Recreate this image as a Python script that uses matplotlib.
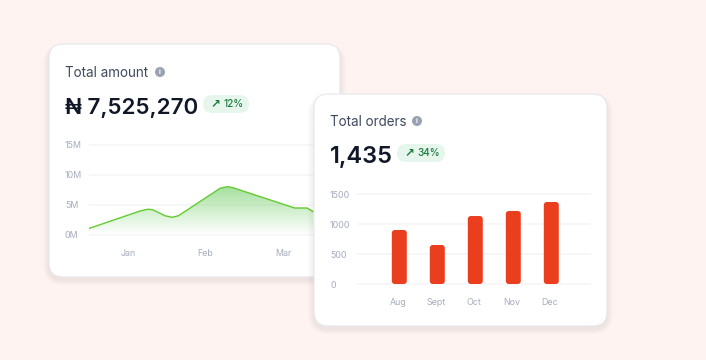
import numpy as np
import matplotlib
matplotlib.use('Agg')
import matplotlib.pyplot as plt
from matplotlib.patches import FancyBboxPatch, Circle, Polygon

plt.rcParams['font.family'] = ['Inter', 'Noto Sans', 'DejaVu Sans']

W, H = 706, 360

# area chart: month position, value in millions
amount_x = [-0.50, 0.155, 0.26, 0.32, 0.48, 0.57, 0.65, 1.19, 1.28, 1.35, 2.15, 2.31, 2.39]
amount_y = [1.1, 4.0, 4.3, 4.2, 3.2, 2.95, 3.2, 7.8, 8.05, 7.9, 4.5, 4.5, 3.9]
amount_months = ['Jan', 'Feb', 'Mar']
amount_ticks = [0, 5, 10, 15]
amount_labels = ['0M', '5M', '10M', '15M']

# bar chart
order_months = ['Aug', 'Sept', 'Oct', 'Nov', 'Dec']
order_values = [900, 650, 1133, 1217, 1367]
order_ticks = [0, 500, 1000, 1500]

BG = '#FEF3F0'
TITLE = '#3F4A5F'
VALUE = '#101828'
TICK = '#A5ACBD'
GRID = '#F7F7F8'
ICON = '#98A2B3'
PILL = '#E7F6EC'
PILL_TXT = '#1B7A3D'
GREEN = '#62CB2F'
RED = '#E93F1F'


def px_axes(fig, x0, x1, y0, y1, **kw):
    # axes placed by pixel box (y counted from the top)
    return fig.add_axes([x0 / W, 1 - y1 / H, (x1 - x0) / W, (y1 - y0) / H], **kw)


def layer(fig):
    ax = fig.add_axes([0, 0, 1, 1])
    ax.set_xlim(0, W)
    ax.set_ylim(H, 0)
    ax.axis('off')
    ax.patch.set_alpha(0)
    return ax


def card(ax, x0, y0, x1, y1):
    # soft shadow, then border and white face
    for i in range(8, 0, -1):
        ax.add_patch(FancyBboxPatch((x0 - i * 0.8, y0 - i * 0.4 + 3), x1 - x0 + i * 1.6, y1 - y0 + i * 1.1,
                                    boxstyle='round,pad=0,rounding_size=%d' % (14 + i), fc='#5A3A30',
                                    ec='none', alpha=0.006))
    ax.add_patch(FancyBboxPatch((x0, y0), x1 - x0, y1 - y0, boxstyle='round,pad=0,rounding_size=14',
                                fc='white', ec='#E4E7EC', lw=0.8))


def header(ax, x, title, icon_x, value, value_size, value_y, pill_x0, pill_x1, pct):
    ax.text(x, value_y - 27, title, fontsize=9.7, color=TITLE, va='baseline', ha='left')
    ax.add_patch(Circle((icon_x, value_y - 32), 5, fc=ICON, ec='none'))
    ax.text(icon_x, value_y - 32, 'i', fontsize=5, color='white', va='center', ha='center', fontweight='bold')
    ax.text(x, value_y + 10, value, fontsize=value_size, color=VALUE, va='baseline', ha='left', fontweight='semibold')
    ax.add_patch(FancyBboxPatch((pill_x0, value_y - 9), pill_x1 - pill_x0, 18,
                                boxstyle='round,pad=0,rounding_size=9', fc=PILL, ec='none'))
    ax.text(pill_x0 + 12, value_y, '\u2197', fontsize=8.5, color=PILL_TXT, va='center', ha='center',
            family=['DejaVu Sans'], fontweight='bold')
    ax.text(pill_x0 + 20, value_y, pct, fontsize=7.2, color=PILL_TXT, va='center', ha='left', fontweight='medium')


def style_axes(ax, pad):
    for s in ax.spines.values():
        s.set_visible(False)
    ax.patch.set_alpha(0)
    ax.grid(True, axis='y', color=GRID, lw=1.4, zorder=0)
    ax.grid(False, axis='x')
    ax.set_axisbelow(True)
    ax.tick_params(length=0, labelsize=6.4, labelcolor=TICK)
    ax.tick_params(axis='x', pad=9.5)
    ax.tick_params(axis='y', pad=pad)
    for lab in ax.get_yticklabels():
        lab.set_ha('left')


fig = plt.figure(figsize=(W / 100, H / 100), dpi=100, facecolor=BG)

# back layer with the first card
back = layer(fig)
card(back, 49, 44, 340, 277)
header(back, 65, 'Total amount', 160, '\u20a6 7,525,270', 16.1, 104, 203, 249, '12%')

# area chart, 30 px per 5M and 77.5 px per month
ax1 = px_axes(fig, 89, 330, 144, 236)
ax1.set_xlim((89 - 128) / 77.5, (330 - 128) / 77.5)
ax1.set_ylim(-1 / 6, 15 + 1 / 6)
ax1.set_xticks(range(len(amount_months)))
ax1.set_xticklabels(amount_months)
ax1.set_yticks(amount_ticks)
ax1.set_yticklabels(amount_labels)
style_axes(ax1, 17.3)

grad = np.zeros((100, 2, 4))
grad[..., 0] = 0.36
grad[..., 1] = 0.78
grad[..., 2] = 0.30
grad[..., 3] = np.linspace(0.55, 0.0, 100)[:, None]
xl, yl = ax1.get_xlim(), ax1.get_ylim()
im = ax1.imshow(grad, extent=[amount_x[0], amount_x[-1], 0, max(amount_y)], aspect='auto', origin='upper', zorder=2)
poly = Polygon(list(zip(amount_x, amount_y)) + [(amount_x[-1], 0), (amount_x[0], 0)], closed=True,
               transform=ax1.transData, fc='none', ec='none')
ax1.add_patch(poly)
im.set_clip_path(poly)
ax1.plot(amount_x, amount_y, color=GREEN, lw=1.0, zorder=3, solid_joinstyle='round')
ax1.set_xlim(xl)
ax1.set_ylim(yl)

# front layer with the second card
front = layer(fig)
card(front, 314, 94, 607, 326)
header(front, 330, 'Total orders', 417, '1,435', 17.0, 153, 397, 445, '34%')

# bar chart, 38 px per bar and 30 px per 500
ax2 = px_axes(fig, 357, 591, 193, 285)
ax2.set_xlim((357 - 399.3) / 38, (591 - 399.3) / 38)
ax2.set_ylim(-500 / 30, 1500 + 500 / 30)
# labels sit a touch left of the bars in the reference
ax2.set_xticks(np.arange(len(order_months)) - 0.04)
ax2.set_xticklabels(order_months)
ax2.set_yticks(order_ticks)
ax2.set_yticklabels([str(t) for t in order_ticks])
style_axes(ax2, 19.4)

bar_w = 15 / 38
for i, v in enumerate(order_values):
    # rounding is given in x units, mutation_aspect stretches it to y units
    ax2.add_patch(FancyBboxPatch((i - bar_w / 2, 0), bar_w, v, boxstyle='round,pad=0,rounding_size=%.3f' % (3 / 38),
                                 mutation_aspect=(500 / 30) * 38, fc=RED, ec='none', zorder=3))

fig.savefig('out.png', dpi=100, facecolor=BG)
